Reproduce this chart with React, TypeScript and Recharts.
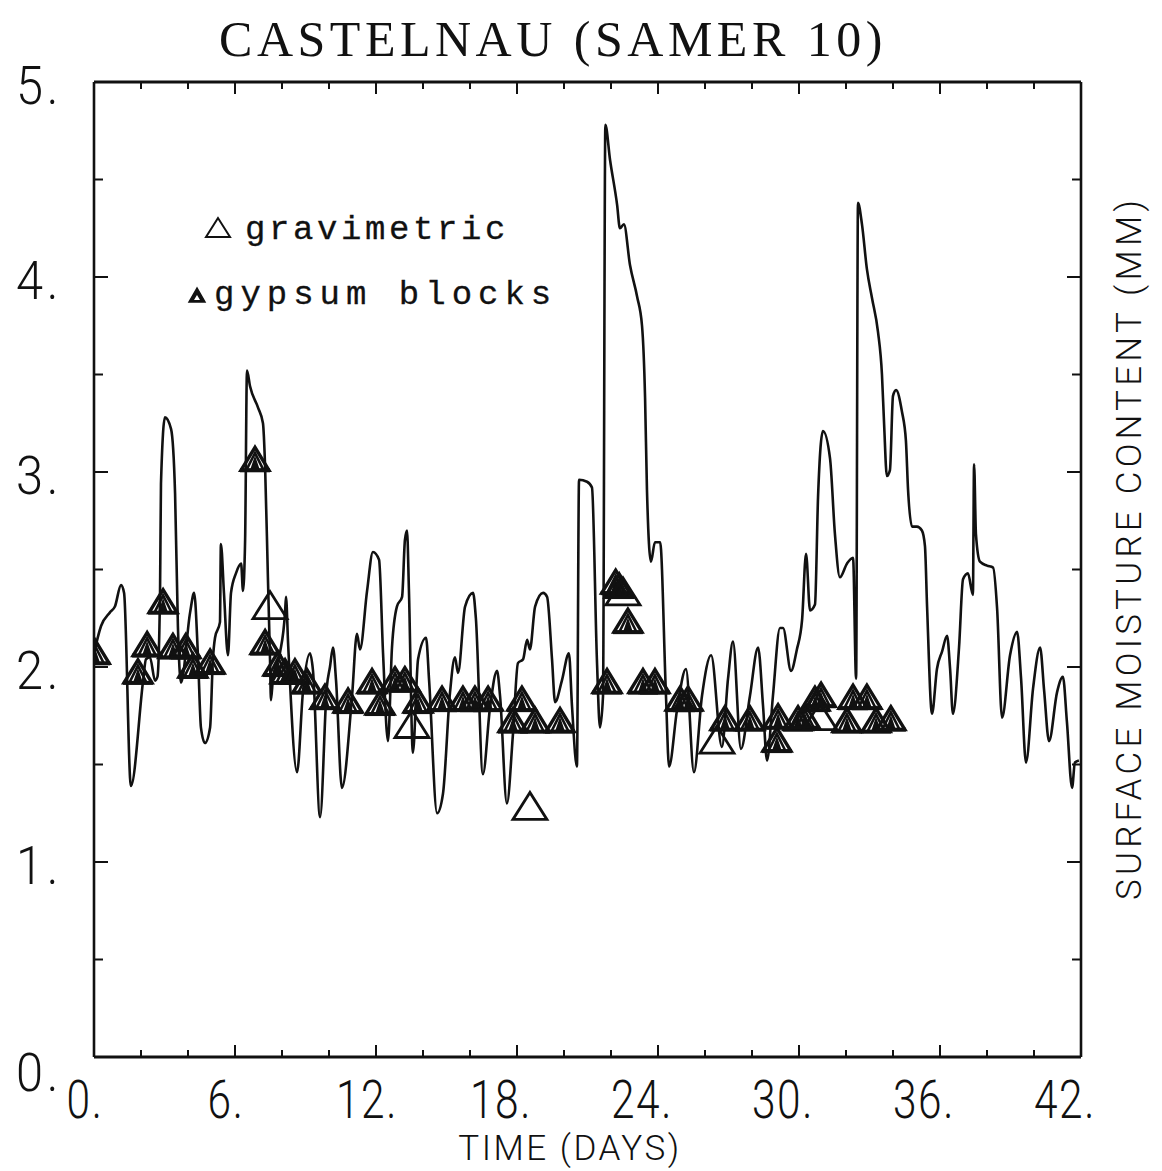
import React from 'react';
import { ComposedChart, Line, Scatter, XAxis, YAxis } from 'recharts';

// Surface moisture content time series (days, mm)
const lineDays = [
  0.0, 0.3, 0.68, 0.89, 1.15, 1.28, 1.57, 2.09, 2.21, 2.38, 2.6, 2.7, 2.81, 2.85, 3.02, 3.28, 3.45, 3.57, 3.7,
  4.09, 4.26, 4.43, 4.55, 4.72, 4.94, 5.06, 5.15, 5.36, 5.4, 5.53, 5.7, 5.83, 6.04, 6.26, 6.34, 6.43, 6.51,
  6.64, 6.98, 7.19, 7.28, 7.4, 7.49, 7.53, 7.62, 7.91, 8.13, 8.17, 8.26, 8.64, 8.89, 9.19, 9.32, 9.62, 9.91,
  10.04, 10.17, 10.3, 10.55, 10.98, 11.19, 11.32, 11.62, 11.87, 12.13, 12.3, 12.51, 12.68, 12.89, 13.11,
  13.23, 13.32, 13.4, 13.57, 13.79, 14.13, 14.26, 14.6, 14.85, 15.15, 15.36, 15.49, 15.79, 16.13, 16.25,
  16.55, 16.85, 17.15, 17.28, 17.57, 17.83, 18.04, 18.26, 18.43, 18.55, 18.77, 19.11, 19.28, 19.49, 19.62,
  19.91, 20.21, 20.34, 20.55, 20.64, 20.98, 21.19, 21.4, 21.53, 21.66, 21.76, 21.96, 22.26, 22.38, 22.55,
  22.81, 23.11, 23.32, 23.45, 23.53, 23.7, 23.87, 24.09, 24.34, 24.47, 24.81, 25.19, 25.53, 25.87, 26.26,
  26.72, 26.98, 27.19, 27.53, 27.91, 28.26, 28.47, 28.64, 28.89, 29.19, 29.32, 29.66, 29.91, 30.13, 30.3,
  30.47, 30.68, 30.81, 31.02, 31.32, 31.53, 31.74, 32.04, 32.3, 32.43, 32.51, 32.68, 32.89, 33.11, 33.36,
  33.53, 33.62, 33.74, 33.87, 34.0, 34.13, 34.38, 34.55, 34.64, 34.81, 35.02, 35.23, 35.36, 35.45, 35.66,
  35.87, 36.09, 36.3, 36.43, 36.55, 36.81, 36.98, 37.19, 37.4, 37.45, 37.53, 37.7, 38.0, 38.26, 38.43, 38.64,
  38.98, 39.28, 39.45, 39.66, 39.96, 40.26, 40.43, 40.64, 40.98, 41.23, 41.4, 41.62, 41.74, 41.91,
];
const lineValues = [
  2.07, 2.21, 2.28, 2.31, 2.42, 2.38, 1.39, 1.93, 2.04, 2.05, 1.93, 1.95, 2.38, 2.94, 3.28, 3.22, 2.89, 2.21, 1.92,
  2.28, 2.38, 2.04, 1.69, 1.61, 1.69, 2.04, 2.15, 2.23, 2.63, 2.38, 2.06, 2.38, 2.48, 2.53, 2.39, 2.65, 3.52,
  3.44, 3.33, 3.25, 3.03, 2.46, 2.04, 1.83, 1.95, 2.07, 2.28, 2.36, 2.12, 1.46, 1.87, 2.07, 1.98, 1.23, 1.9,
  2.0, 2.1, 1.93, 1.38, 1.85, 2.17, 2.09, 2.39, 2.59, 2.55, 2.07, 1.62, 2.1, 2.31, 2.36,
  2.65, 2.7, 2.4, 1.56, 2.04, 2.15, 1.93, 1.25, 1.35, 1.87, 2.05, 1.97, 2.31, 2.38, 2.25,
  1.45, 1.79, 1.98, 1.85, 1.3, 1.66, 2.02, 2.04, 2.14, 2.09, 2.31, 2.38, 2.36, 2.04, 1.82,
  1.93, 2.07, 1.8, 1.49, 2.96, 2.95, 2.92, 2.04, 1.69, 1.85, 4.78, 4.6, 4.37, 4.25, 4.27,
  4.06, 3.9, 3.75, 3.38, 2.91, 2.54, 2.64, 2.64, 1.85, 1.49, 1.78, 1.99, 1.46, 1.85, 2.06,
  1.59, 1.94, 2.13, 1.58, 1.85, 2.1, 1.8, 1.52, 1.85, 2.2, 2.2, 1.98, 2.09, 2.24, 2.58,
  2.29, 2.32, 2.87, 3.21, 3.07, 2.68, 2.46, 2.53, 2.56, 1.94, 4.38, 4.27, 4.04, 3.89, 3.72,
  3.5, 3.25, 2.98, 3.01, 3.39, 3.42, 3.31, 3.16, 2.91, 2.72, 2.72, 2.7, 2.62, 2.31, 1.76,
  1.99, 2.08, 2.16, 1.99, 1.76, 2.1, 2.45, 2.48, 2.37, 3.04, 2.68, 2.54, 2.52, 2.51, 2.3, 1.74,
  2.06, 2.18, 1.94, 1.51, 1.89, 2.1, 1.88, 1.62, 1.87, 1.95, 1.72, 1.38, 1.51, 1.52,
];

// Gravimetric samples
const gravDays = [7.49, 13.53, 18.55, 22.51, 26.51, 30.89];
const gravValues = [2.31, 1.7, 1.28, 2.38, 1.62, 1.74];

// Gypsum block readings
const gypDays = [
  0.05, 1.87, 2.26, 2.94, 3.36, 3.91, 4.21, 4.94, 6.85, 7.28, 7.83, 8.13, 8.55, 9.06, 9.83, 10.81, 11.83,
  12.17, 12.81, 13.23, 13.79, 14.81, 15.7, 16.21, 16.77, 17.83, 18.21, 18.77, 19.83, 21.83, 22.2, 22.35,
  22.72, 23.36, 23.87, 24.94, 25.28, 26.85, 27.91, 29.06, 29.11, 29.96, 30.26, 30.68, 30.94, 32.04, 32.3,
  32.89, 33.28, 33.91,
];
const gypValues = [
  2.07, 1.97, 2.11, 2.33, 2.1, 2.1, 2.0, 2.02, 3.06, 2.12, 2.01, 1.97, 1.97, 1.92, 1.84, 1.82, 1.92,
  1.81, 1.93, 1.93, 1.82, 1.83, 1.83, 1.83, 1.83, 1.72, 1.83, 1.72, 1.72, 1.92, 2.43, 2.41,
  2.23, 1.92, 1.92, 1.83, 1.83, 1.73, 1.73, 1.62, 1.74, 1.73, 1.74, 1.83, 1.85, 1.72, 1.84,
  1.84, 1.72, 1.73,
];

const xTicks = [0, 2, 4, 6, 8, 10, 12, 14, 16, 18, 20, 22, 24, 26, 28, 30, 32, 34, 36, 38, 40, 42];
const yTicks = [0, 0.5, 1, 1.5, 2, 2.5, 3, 3.5, 4, 4.5, 5];

const title = 'CASTELNAU (SAMER 10)';
const xTitle = 'TIME (DAYS)';
const yTitle = 'SURFACE MOISTURE CONTENT (MM)';
const legendGrav = 'gravimetric';
const legendGyp = 'gypsum blocks';

const lineData = lineDays.map((t, i) => ({ t, v: lineValues[i] }));
const gravData = gravDays.map((t, i) => ({ t, v: gravValues[i] }));
const gypData = gypDays.map((t, i) => ({ t, v: gypValues[i] }));

const SANS = "Roboto, 'DejaVu Sans', sans-serif";
const INK = '#111';

const BottomTick = (props: any) => {
  const { x, y, payload } = props;
  const v = payload.value;
  const major = v % 6 === 0;
  return (
    <g>
      <line x1={x} x2={x} y1={y} y2={y - (major ? 12 : 7)} stroke={INK} strokeWidth={2} />
      {major && (
        <text
          transform={`translate(${x - (v >= 18 ? 16 : 9)},${y + 61}) scale(0.8,1)`}
          textAnchor="middle"
          fontFamily={SANS}
          fontWeight={300}
          fontSize={53}
          letterSpacing={2}
          fill={INK}
        >
          {`${v}.`}
        </text>
      )}
    </g>
  );
};

const TopTick = (props: any) => {
  const { x, y, payload } = props;
  const major = payload.value % 6 === 0;
  return <line x1={x} x2={x} y1={y} y2={y + (major ? 12 : 7)} stroke={INK} strokeWidth={2} />;
};

const LeftTick = (props: any) => {
  const { x, y, payload } = props;
  const v = payload.value;
  const major = Number.isInteger(v);
  return (
    <g>
      <line x1={x} x2={x + (major ? 14 : 9)} y1={y} y2={y} stroke={INK} strokeWidth={2} />
      {major && (
        <text
          transform={`translate(${x - 32},${y + (v === 0 ? 34 : 22)}) scale(0.92,1)`}
          textAnchor="end"
          fontFamily={SANS}
          fontWeight={300}
          fontSize={53}
          letterSpacing={4}
          fill={INK}
        >
          {`${v}.`}
        </text>
      )}
    </g>
  );
};

const RightTick = (props: any) => {
  const { x, y, payload } = props;
  const major = Number.isInteger(payload.value);
  return <line x1={x} x2={x - (major ? 14 : 9)} y1={y} y2={y} stroke={INK} strokeWidth={2} />;
};

const GravShape = (props: any) => {
  const { cx, cy } = props;
  if (cx == null || cy == null) return null;
  const pts = `${cx},${cy - 15} ${cx - 17},${cy + 12} ${cx + 17},${cy + 12}`;
  return <polygon points={pts} fill="none" stroke={INK} strokeWidth={2.8} strokeLinejoin="miter" />;
};

const GypShape = (props: any) => {
  const { cx, cy } = props;
  if (cx == null || cy == null) return null;
  const tri = (s: number) => `${cx},${cy - 13 * s + 2 * (1 - s)} ${cx - 14 * s},${cy + 10} ${cx + 14 * s},${cy + 10}`;
  return (
    <g>
      <polygon points={tri(1)} fill="none" stroke={INK} strokeWidth={3.4} />
      <polygon points={tri(0.62)} fill="none" stroke={INK} strokeWidth={2.6} />
      <polygon points={tri(0.3)} fill={INK} stroke={INK} strokeWidth={1.5} />
      <line x1={cx - 15} x2={cx + 15} y1={cy + 10} y2={cy + 10} stroke={INK} strokeWidth={4} />
    </g>
  );
};

export default function App() {
  return (
    <div style={{ position: 'absolute', left: 0, top: 0, width: 1162, height: 1171, background: '#fff' }}>
      <ComposedChart
        width={1162}
        height={1171}
        data={lineData}
        margin={{ top: 52, right: 21, bottom: 74, left: 34 }}
      >
        <XAxis
          xAxisId="bottom"
          dataKey="t"
          type="number"
          domain={[0, 42]}
          ticks={xTicks}
          interval={0}
          allowDataOverflow
          orientation="bottom"
          height={40}
          tickSize={0}
          tickMargin={0}
          tickLine={false}
          axisLine={{ stroke: INK, strokeWidth: 3 }}
          tick={<BottomTick />}
        />
        <XAxis
          xAxisId="top"
          dataKey="t"
          type="number"
          domain={[0, 42]}
          ticks={xTicks}
          interval={0}
          allowDataOverflow
          orientation="top"
          height={30}
          tickSize={0}
          tickMargin={0}
          tickLine={false}
          axisLine={{ stroke: INK, strokeWidth: 3 }}
          tick={<TopTick />}
        />
        <YAxis
          yAxisId="left"
          type="number"
          domain={[0, 5]}
          ticks={yTicks}
          interval={0}
          allowDataOverflow
          orientation="left"
          width={60}
          tickSize={0}
          tickMargin={0}
          tickLine={false}
          axisLine={{ stroke: INK, strokeWidth: 2.6 }}
          tick={<LeftTick />}
        />
        <YAxis
          yAxisId="right"
          type="number"
          domain={[0, 5]}
          ticks={yTicks}
          interval={0}
          allowDataOverflow
          orientation="right"
          width={60}
          tickSize={0}
          tickMargin={0}
          tickLine={false}
          axisLine={{ stroke: INK, strokeWidth: 2.6 }}
          tick={<RightTick />}
        />
        <Line
          xAxisId="bottom"
          yAxisId="left"
          type="monotone"
          dataKey="v"
          stroke={INK}
          strokeWidth={2.6}
          dot={false}
          activeDot={false}
          isAnimationActive={false}
        />
        <Scatter
          xAxisId="bottom"
          yAxisId="left"
          data={gypData}
          dataKey="v"
          shape={<GypShape />}
          isAnimationActive={false}
        />
        <Scatter
          xAxisId="bottom"
          yAxisId="left"
          data={gravData}
          dataKey="v"
          shape={<GravShape />}
          isAnimationActive={false}
        />
      </ComposedChart>
      <svg
        width={1162}
        height={1171}
        style={{ position: 'absolute', left: 0, top: 0, pointerEvents: 'none' }}
      >
        <text
          x={553}
          y={56}
          textAnchor="middle"
          fontFamily="'Liberation Serif', 'DejaVu Serif', serif"
          fontSize={50}
          letterSpacing={4.5}
          fill={INK}
        >
          {title}
        </text>
        <polygon points="218,218 206,237 230,237" fill="none" stroke={INK} strokeWidth={2} />
        <text
          x={245}
          y={239}
          fontFamily="'Liberation Mono', 'DejaVu Sans Mono', monospace"
          fontSize={34}
          letterSpacing={3.6}
          fill={INK}
          stroke={INK}
          strokeWidth={0.3}
        >
          {legendGrav}
        </text>
        <polygon points="197,288 189,302 205,302" fill={INK} stroke={INK} strokeWidth={1.5} />
        <polygon points="197,295 194,300 200,300" fill="#fff" />
        <text
          x={214}
          y={304}
          fontFamily="'Liberation Mono', 'DejaVu Sans Mono', monospace"
          fontSize={34}
          letterSpacing={6}
          fill={INK}
          stroke={INK}
          strokeWidth={0.3}
        >
          {legendGyp}
        </text>
        <text
          x={570}
          y={1160}
          textAnchor="middle"
          fontFamily={SANS}
          fontWeight={300}
          fontSize={35}
          letterSpacing={2.5}
          fill={INK}
        >
          {xTitle}
        </text>
        <text
          transform="translate(1141,548) rotate(-90)"
          textAnchor="middle"
          fontFamily={SANS}
          fontWeight={300}
          fontSize={35}
          letterSpacing={4.2}
          fill={INK}
        >
          {yTitle}
        </text>
      </svg>
    </div>
  );
}
